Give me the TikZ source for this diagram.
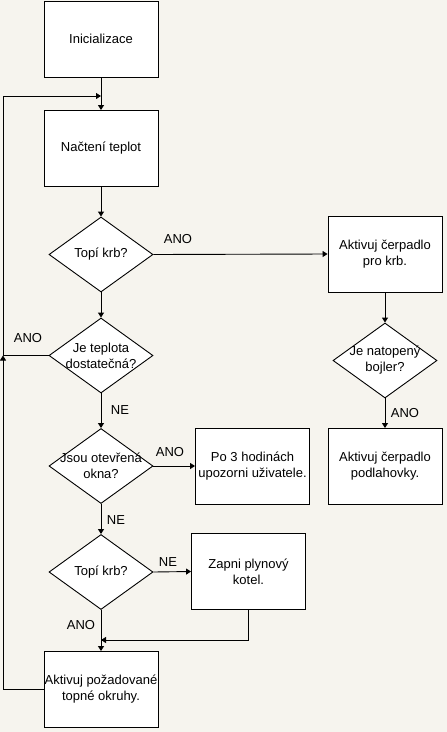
\documentclass[tikz,border=0pt]{standalone}
\usepackage{fontspec}
\setmainfont{Liberation Sans}
\usetikzlibrary{shapes.geometric,arrows.meta}
\definecolor{bgc}{RGB}{246,244,238}
\tikzset{
  box/.style={draw=black, fill=white, line width=0.9pt, minimum width=114pt, minimum height=76pt, inner sep=0pt, align=center, font=\fontsize{13}{16}\selectfont},
  dia/.style={draw=black, fill=white, line width=0.9pt, diamond, inner sep=0pt, minimum width=104pt, minimum height=75pt},
  dtext/.style={align=center, inner sep=0pt, font=\fontsize{13}{16}\selectfont},
  lbl/.style={inner sep=0pt, font=\fontsize{13}{16}\selectfont},
  arr/.style={line width=0.9pt, -{Triangle[length=5pt,width=6pt]}},
  ln/.style={line width=0.9pt}
}
\begin{document}
\begin{tikzpicture}[x=1pt,y=-1pt]
\fill[bgc] (0,0) rectangle (447,732);
\useasboundingbox (0,0) rectangle (447,732);
% boxes
\node[box] (init) at (101,39) {Inicializace};
\node[box] (nac) at (101,148.5) {Načtení teplot};
\node[box] (krb) at (385,254) {Aktivuj čerpadlo\\pro krb.};
\node[box] (podl) at (385,466.5) {Aktivuj čerpadlo\\podlahovky.};
\node[box] (po3) at (252.5,466) {Po 3 hodinách\\upozorni uživatele.};
\node[box] (zapni) at (248.5,571.5) {Zapni plynový\\kotel.};
\node[box] (akt) at (101,689.5) {Aktivuj požadované\\topné okruhy.};
% diamonds
\node[dia] (d1) at (101,254.5) {};
\node[dtext] (t1) at (d1) {Topí krb?};
\node[dia] (d2) at (101,355.5) {};
\node[dtext] (t2) at (d2) {Je teplota\\dostatečná?};
\node[dia] (d3) at (101,466) {};
\node[dtext] (t3) at (d3) {Jsou otevřená\\okna?};
\node[dia] (d4) at (101,572) {};
\node[dtext] (t4) at (d4) {Topí krb?};
\node[dia] (dR) at (385,360.5) {};
\node[dtext] (tR) at (dR) {Je natopený\\bojler?};
% helper coordinates
\coordinate (lx) at (3,0);
\coordinate (jtop) at (101,96);
\coordinate (jbot) at (101,640);
% connectors
\draw[arr] (init.south) -- (nac.north);
\draw[arr] (nac.south) -- (d1.north);
\draw[arr] (d1.east) -- (krb.west);
\draw[arr] (d1.south) -- (d2.north);
\draw[arr] (krb.south) -- (dR.north);
\draw[arr] (dR.south) -- (podl.north);
\draw[arr] (d2.south) -- (d3.north);
\draw[arr] (d3.east) -- (po3.west);
\draw[arr] (d3.south) -- (d4.north);
\draw[arr] (d4.east) -- (zapni.west);
\draw[arr] (d4.south) -- (akt.north);
\draw[arr] (zapni.south) |- (jbot);
\draw[arr] (akt.west) -| (lx |- d2.west);
\draw[arr] (d2.west) -- (lx |- d2.west) |- (jtop);
% labels
\node[lbl] (l1) at (178,239) {ANO};
\node[lbl] (l2) at (28,338) {ANO};
\node[lbl] (l3) at (120,410) {NE};
\node[lbl] (l4) at (170,452) {ANO};
\node[lbl] (l5) at (116,520) {NE};
\node[lbl] (l6) at (168,562) {NE};
\node[lbl] (l7) at (81,625) {ANO};
\node[lbl] (l8) at (405,413) {ANO};
\end{tikzpicture}
\end{document}
